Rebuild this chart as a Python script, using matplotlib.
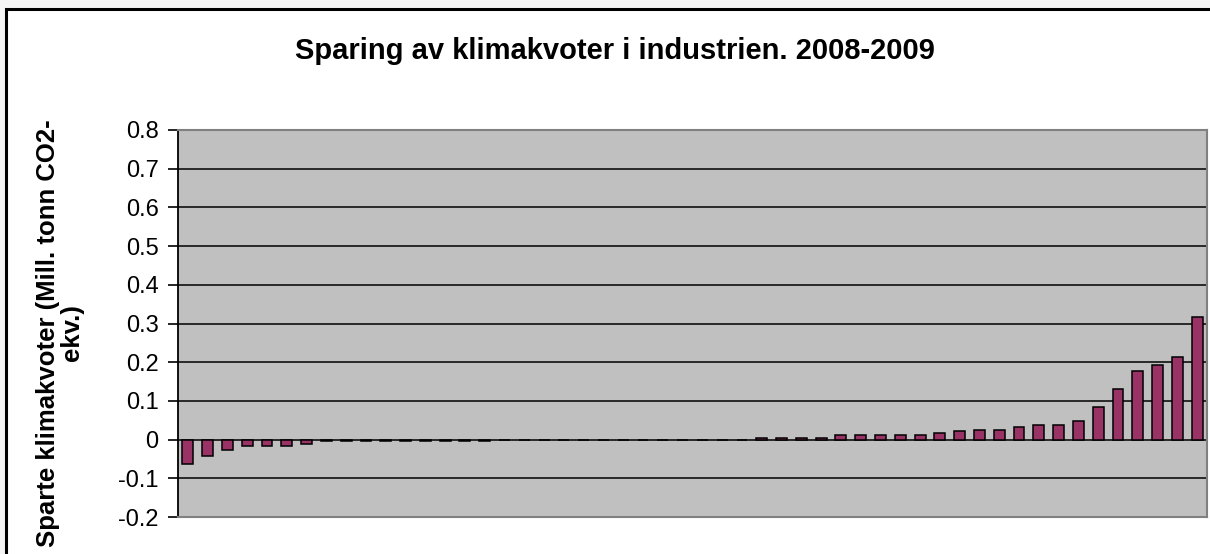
import matplotlib
matplotlib.use("Agg")
import matplotlib.pyplot as plt
from matplotlib.patches import Rectangle

plt.rcParams['font.family'] = ['Liberation Sans', 'DejaVu Sans']

# values per company, sorted (Mill. tonn CO2-ekv.)
left_vals = [-0.062, -0.042, -0.027, -0.016, -0.016, -0.016, -0.011] + [-0.003] * 9
middle_vals = [0.0] * 13
right_vals = [0.003] * 4 + [0.011] * 5 + [0.016, 0.021, 0.026, 0.026, 0.032, 0.037, 0.037,
                                          0.048, 0.084, 0.130, 0.177, 0.193, 0.213, 0.317]
values = left_vals + middle_vals + right_vals
yticks = [-0.2, -0.1, 0, 0.1, 0.2, 0.3, 0.4, 0.5, 0.6, 0.7, 0.8]
ytick_labels = ['-0.2', '-0.1', '0', '0.1', '0.2', '0.3', '0.4', '0.5', '0.6', '0.7', '0.8']

W, H = 1210, 554
fig = plt.figure(figsize=(W / 100, H / 100), dpi=100)
fig.patch.set_facecolor('#f5f5f5')

# chart frame (runs off the right and bottom edge)
frame = Rectangle((6 / W, -0.05), 1.0, (H - 9) / H + 0.05, transform=fig.transFigure,
                  facecolor='white', edgecolor='black', linewidth=2.2, zorder=-1)
fig.patches.append(frame)

ax = fig.add_axes([178 / W, 1 - 517 / H, (1207 - 178) / W, (517 - 130) / H])
ax.set_zorder(1)
ax.set_facecolor('#c0c0c0')

x = list(range(len(values)))
ax.bar(x, values, width=0.55, color='#993366', edgecolor='black', linewidth=1.1, zorder=3)

ax.set_xlim(-0.5, len(values) - 0.5)
ax.set_ylim(-0.2, 0.8)
ax.set_yticks(yticks)
ax.set_yticklabels(ytick_labels, fontsize=17)
ax.set_xticks([])
ax.tick_params(axis='y', direction='out', length=7, width=1.2, color='black', pad=7)

for v in yticks[1:-1]:
    ax.axhline(v, color='black', linewidth=1.1, zorder=1)

for side in ['top', 'right', 'bottom']:
    ax.spines[side].set_color('#808080')
    ax.spines[side].set_linewidth(1.5)
ax.spines['left'].set_color('black')
ax.spines['left'].set_linewidth(1.3)

fig.text(615 / W, 1 - 51 / H, 'Sparing av klimakvoter i industrien. 2008-2009',
         ha='center', va='center', fontsize=21, fontweight='bold')
fig.text(60 / W, 1 - 333 / H, 'Sparte klimakvoter (Mill. tonn CO2-\nekv.)',
         ha='center', va='center', rotation=90, fontsize=18.5, fontweight='bold',
         multialignment='center', linespacing=1.0)

fig.savefig('out.png', dpi=100, facecolor=fig.get_facecolor())
